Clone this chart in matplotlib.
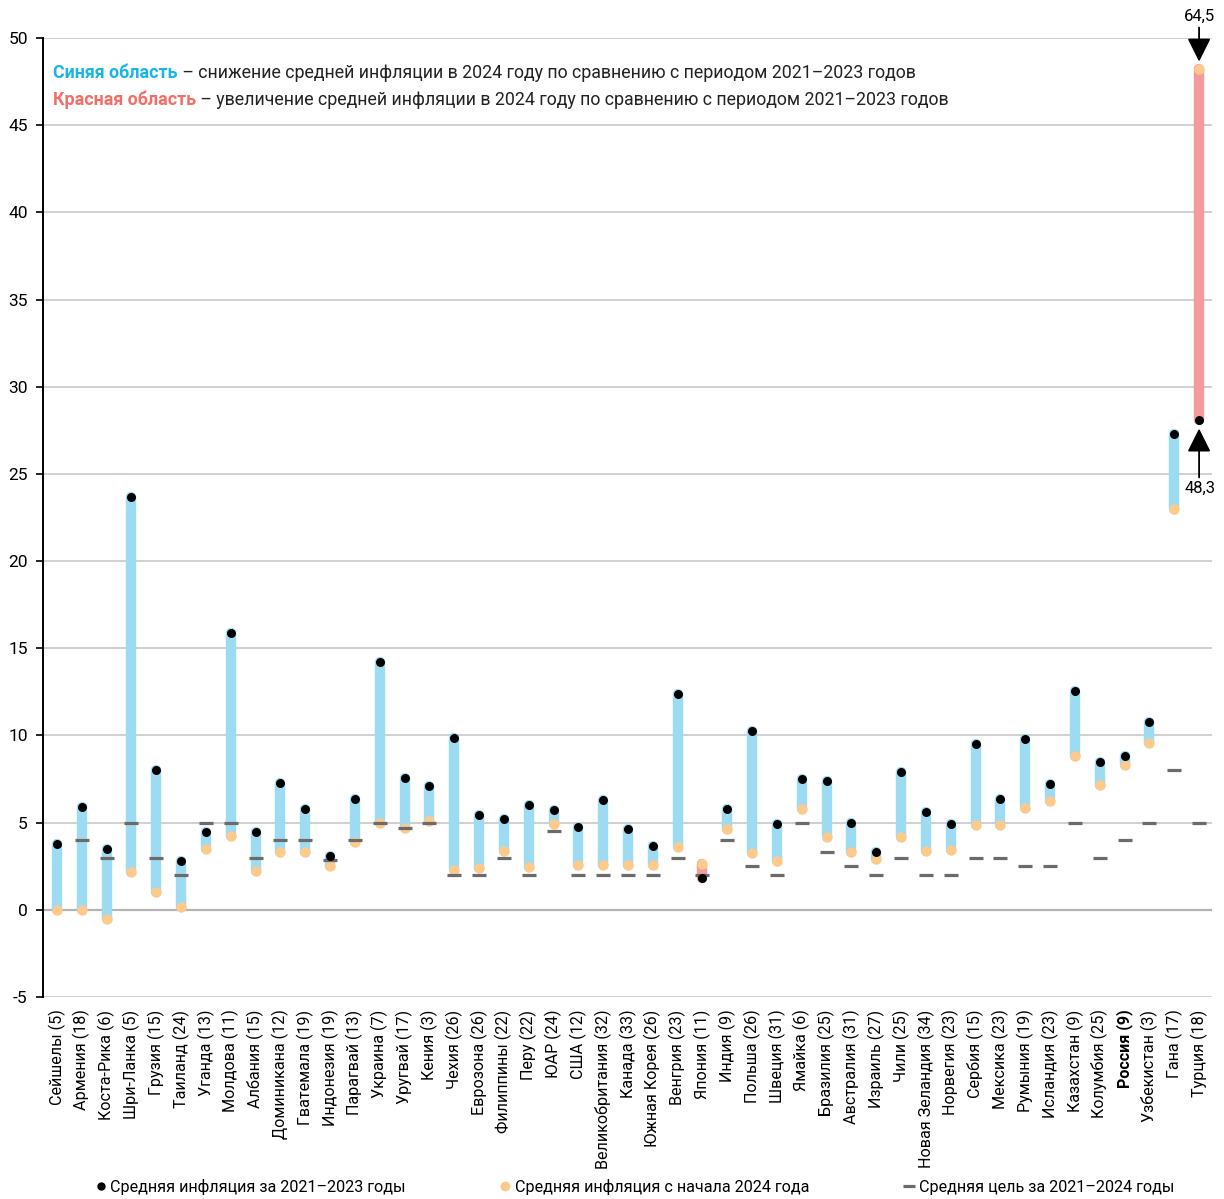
import numpy as np
import matplotlib
matplotlib.use('Agg')
import matplotlib.pyplot as plt
from matplotlib.lines import Line2D

plt.rcParams['font.family'] = ['Roboto', 'DejaVu Sans']
plt.rcParams['axes.unicode_minus'] = False

# Data (Turkey is drawn on a compressed scale, real values in labels)
countries = ['Сейшелы (5)', 'Армения (18)', 'Коста-Рика (6)', 'Шри-Ланка (5)', 'Грузия (15)',
             'Таиланд (24)', 'Уганда (13)', 'Молдова (11)', 'Албания (15)', 'Доминикана (12)',
             'Гватемала (19)', 'Индонезия (19)', 'Парагвай (13)', 'Украина (7)', 'Уругвай (17)',
             'Кения (3)', 'Чехия (26)', 'Еврозона (26)', 'Филиппины (22)', 'Перу (22)',
             'ЮАР (24)', 'США (12)', 'Великобритания (32)', 'Канада (33)', 'Южная Корея (26)',
             'Венгрия (23)', 'Япония (11)', 'Индия (9)', 'Польша (26)', 'Швеция (31)',
             'Ямайка (6)', 'Бразилия (25)', 'Австралия (31)', 'Израиль (27)', 'Чили (25)',
             'Новая Зеландия (34)', 'Норвегия (23)', 'Сербия (15)', 'Мексика (23)', 'Румыния (19)',
             'Исландия (23)', 'Казахстан (9)', 'Колумбия (25)', 'Россия (9)', 'Узбекистан (3)',
             'Гана (17)', 'Турция (18)']
infl_2021_2023 = [3.78, 5.92, 3.5, 23.7, 8.0, 2.8, 4.45, 15.87, 4.45, 7.26,
                  5.79, 3.1, 6.36, 14.24, 7.55, 7.1, 9.88, 5.45, 5.2, 6.02,
                  5.73, 4.77, 6.31, 4.64, 3.67, 12.39, 1.82, 5.79, 10.28, 4.93,
                  7.53, 7.36, 4.99, 3.33, 7.9, 5.6, 4.93, 9.5, 6.38, 9.8,
                  7.2, 12.55, 8.5, 8.8, 10.8, 27.3, 28.1]
infl_2024 = [0.0, 0.0, -0.5, 2.15, 1.05, 0.17, 3.5, 4.25, 2.25, 3.3,
             3.3, 2.5, 3.9, 5.0, 4.72, 5.1, 2.3, 2.4, 3.4, 2.43,
             4.93, 2.55, 2.55, 2.55, 2.55, 3.63, 2.64, 4.66, 3.25, 2.8,
             5.8, 4.2, 3.33, 2.92, 4.2, 3.4, 3.45, 4.85, 4.85, 5.85,
             6.25, 8.8, 7.13, 8.3, 9.55, 23.0, 48.2]
target = [np.nan, 4, 3, 5, 3, 2, 5, 5, 3, 4,
          4, 2.875, 4, 5, 4.7, 5, 2, 2, 3, 2,
          4.5, 2, 2, 2, 2, 3, 2, 4, 2.5, 2,
          5, 3.3, 2.5, 2, 3, 2, 2, 3, 3, 2.5,
          2.5, 5, 3, 4, 5, 8, 5]
turkey_labels = ['48,3', '64,5']

BLUE = '#9ddbf3'
RED = '#f59a9a'
ORANGE = '#fdca8b'
DASH = '#6b6b6b'
FS = 11.6

fig = plt.figure(figsize=(12.24, 11.99), dpi=100)
ax = fig.add_axes([43 / 1224, 1 - 997 / 1199, (1212 - 43) / 1224, (997 - 38) / 1199])

x = np.arange(len(countries))
for i in x:
    lo, hi = infl_2021_2023[i], infl_2024[i]
    col = RED if hi > lo else BLUE
    ax.plot([i, i], [lo, hi], color=col, lw=7.5, solid_capstyle='round', zorder=2)

ax.plot(x, infl_2024, 'o', color=ORANGE, ms=7.5, mec='none', zorder=3)
ax.plot(x, target, '_', color=DASH, ms=10.5, mew=2.3, zorder=4)
ax.plot(x, infl_2021_2023, 'o', color='black', ms=6.5, mec='none', zorder=5)

# Turkey labels with arrows
it = len(countries) - 1
ax.text(it, 51.25, turkey_labels[1], ha='center', va='center', fontsize=12)
ax.annotate('', xy=(it, 48.65), xytext=(it, 50.6), annotation_clip=False,
            arrowprops=dict(arrowstyle='-|>,head_length=0.6,head_width=0.3', mutation_scale=24,
                            color='black', lw=1.3, shrinkA=0, shrinkB=0))
ax.text(it + 0.05, 24.2, turkey_labels[0], ha='center', va='center', fontsize=12)
ax.annotate('', xy=(it, 27.6), xytext=(it, 24.8), annotation_clip=False,
            arrowprops=dict(arrowstyle='-|>,head_length=0.6,head_width=0.3', mutation_scale=24,
                            color='black', lw=1.3, shrinkA=0, shrinkB=0))

ax.set_xlim(-0.56, len(countries) - 1 + 0.52)
ax.set_ylim(-5, 50)
ax.set_yticks(np.arange(-5, 51, 5))
ax.grid(axis='y', color='#c8c8c8', lw=1.2, zorder=0)
ax.axhline(0, color='#505050', lw=1.5, zorder=1)
for s in ['top', 'right', 'bottom']:
    ax.spines[s].set_visible(False)
ax.spines['left'].set_linewidth(1.4)
ax.tick_params(axis='y', direction='out', length=5, width=1.2, labelsize=12.5, pad=6)
ax.tick_params(axis='x', length=0, pad=9)
ax.set_xticks(x)
ax.set_xticklabels(countries, rotation=90, fontsize=FS, va='top')
for lbl in ax.get_xticklabels():
    if lbl.get_text().startswith('Россия'):
        lbl.set_fontweight('bold')

# Header explanation lines
t1 = fig.text(53 / 1224, 1 - 78 / 1199, 'Синяя область', color='#19b5e8', fontsize=12.8,
              fontweight='bold', va='baseline')
ax.annotate(' – снижение средней инфляции в 2024 году по сравнению с периодом 2021–2023 годов',
            xy=(1, 0), xycoords=t1, va='bottom', fontsize=12.8, color='#222222')
t2 = fig.text(53 / 1224, 1 - 105 / 1199, 'Красная область', color='#f26e66', fontsize=12.8,
              fontweight='bold', va='baseline')
ax.annotate(' – увеличение средней инфляции в 2024 году по сравнению с периодом 2021–2023 годов',
            xy=(1, 0), xycoords=t2, va='bottom', fontsize=12.8, color='#222222')

# Legend
handles = [Line2D([], [], ls='none', marker='o', color='black', ms=5),
           Line2D([], [], ls='none', marker='o', color=ORANGE, ms=6),
           Line2D([], [], ls='none', marker='_', color=DASH, ms=9, mew=2.3)]
labels = ['Средняя инфляция за 2021–2023 годы', 'Средняя инфляция с начала 2024 года',
          'Средняя цель за 2021–2024 годы']
fig.legend(handles, labels, ncol=3, loc='lower left', mode='expand',
           bbox_to_anchor=(96 / 1224, 4 / 1199, (1174 - 96) / 1224, 22 / 1199),
           frameon=False, fontsize=FS, handlelength=0.6, handletextpad=0.3,
           borderaxespad=0, borderpad=0)

fig.savefig('out.png', dpi=100)
